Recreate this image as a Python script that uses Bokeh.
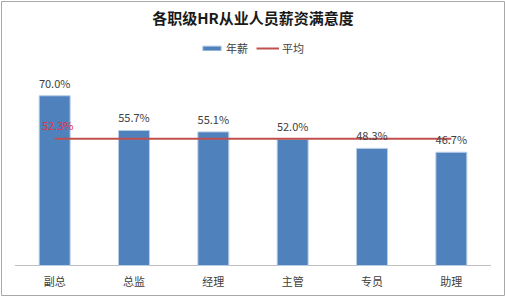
from bokeh.plotting import figure
from bokeh.models import ColumnDataSource, LabelSet, Label, Legend, LegendItem, Range1d, FactorRange
from bokeh.core.properties import value
from bokeh.embed import file_html
from bokeh.resources import INLINE

categories = ["副总", "总监", "经理", "主管", "专员", "助理"]
salary = [0.700, 0.557, 0.551, 0.520, 0.483, 0.467]
average = 0.523
title = "各职级HR从业人员薪资满意度"

FONT = "Noto Sans CJK SC"

src = ColumnDataSource(dict(cat=categories, val=salary, zero=[0.0] * len(categories),
                            lab=[f"{v*100:.1f}%" for v in salary]))

xr = FactorRange(factors=categories, range_padding=0.17, range_padding_units="absolute")
p = figure(width=505, height=296, x_range=xr, y_range=Range1d(-0.1237, 1.0887),
           output_backend="svg", toolbar_location=None,
           x_axis_location=None, y_axis_location=None,
           min_border_left=1, min_border_right=1, min_border_top=1, min_border_bottom=1)
p.outline_line_color = "#a8a8a8"
p.outline_line_width = 1
p.xgrid.grid_line_color = None
p.ygrid.grid_line_color = None

# baseline (category axis line)
p.segment(x0=[0], x1=[len(categories)], y0=[0], y1=[0], line_color="#bfbfbf", line_width=1)

bars = p.vbar(x="cat", top="val", width=0.39, source=src, fill_color="#4f81bd",
              line_color="#b9cde5", line_width=1)
avg_src = ColumnDataSource(dict(x=[categories[0], categories[-1]], y=[average, average]))
line = p.line(x="x", y="y", source=avg_src, line_color="#c0504d", line_width=2)

p.add_layout(LabelSet(x="cat", y="val", text="lab", source=src, text_align="center",
                      text_baseline="bottom", y_offset=5, text_font=value(FONT),
                      text_font_size="11px", text_color="#404040"))
p.add_layout(LabelSet(x="cat", y="zero", text="cat", source=src, text_align="center",
                      text_baseline="top", y_offset=-7, text_font=value(FONT),
                      text_font_size="11px", text_color="#404040"))
p.add_layout(Label(x=0.5, y=average, text=f"{average*100:.1f}%", text_align="center",
                   text_baseline="bottom", x_offset=3, y_offset=6, text_font=FONT,
                   text_font_size="11px", text_color="#e0333c"))
p.add_layout(Label(x=len(categories) / 2, y=1.0227, text=title, text_align="center",
                   text_baseline="middle", text_font=FONT, text_font_style="bold",
                   text_font_size="15px", text_color="#1a1a1a"))

legend = Legend(items=[LegendItem(label="年薪", renderers=[bars]),
                       LegendItem(label="平均", renderers=[line])],
                orientation="horizontal", location=(199, 239),
                label_text_font=FONT, label_text_font_size="11px", label_text_color="#404040",
                border_line_color=None, background_fill_alpha=0,
                glyph_width=23, glyph_height=6, spacing=8,
                label_standoff=3, padding=2, margin=0)
p.add_layout(legend)

open("out.html", "w").write(file_html(p, INLINE))
